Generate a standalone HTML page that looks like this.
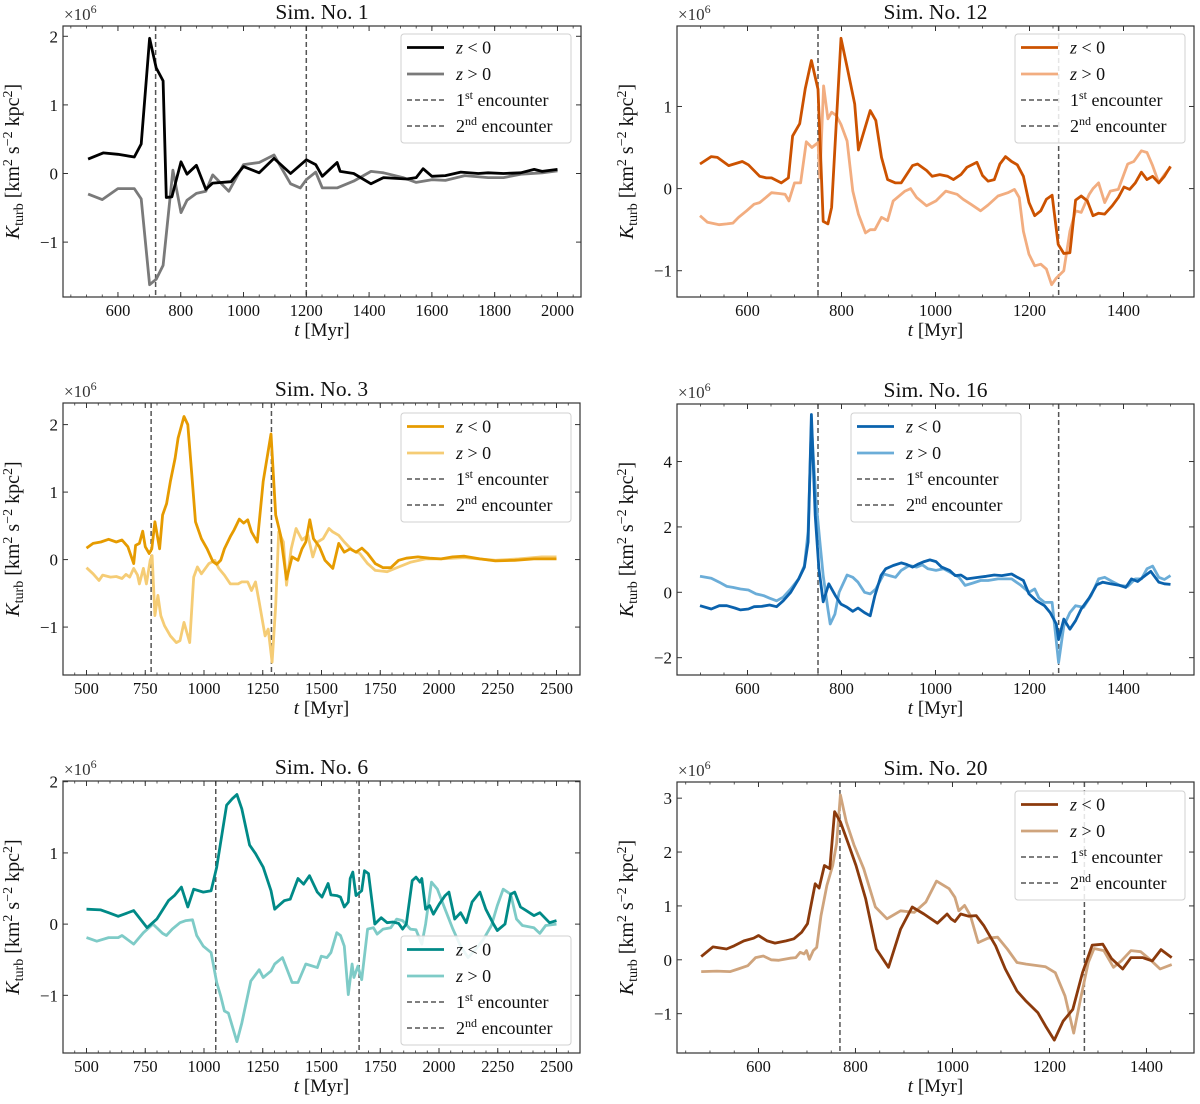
<!DOCTYPE html>
<html><head><meta charset="utf-8"><style>
html,body{margin:0;padding:0;background:#fff;}
svg{display:block;font-family:"Liberation Serif",serif;}
</style></head><body>
<svg id="fig" width="1200" height="1104" viewBox="0 0 1200 1104" xmlns="http://www.w3.org/2000/svg"></svg>
<script>
// ---- Data (values in units of 1e6) ----
const p1NegT=[505,553,600,652,674,701,722,744,754,772,801,820,850,880,902,960,1000,1050,1097,1150,1200,1230,1251,1298,1308,1351,1406,1446,1520,1550,1572,1600,1643,1692,1748,1779,1828,1883,1926,1951,2000];
const p1NegV=[0.21,0.30,0.28,0.24,0.43,1.97,1.54,1.35,-0.35,-0.34,0.17,-0.01,0.12,-0.23,-0.14,-0.12,0.10,0.01,0.22,0,0.20,0.13,-0.04,0.16,0.03,0,-0.15,-0.06,-0.08,-0.06,0.07,-0.04,-0.03,0.02,0,0.01,0,0.01,0.06,0.03,0.06];
const p1PosT=[505,550,600,652,674,701,722,744,775,801,820,850,880,902,953,1000,1050,1097,1150,1181,1200,1230,1251,1298,1351,1406,1446,1508,1550,1600,1643,1705,1779,1828,1883,1951,2000];
const p1PosV=[-0.30,-0.38,-0.22,-0.22,-0.37,-1.62,-1.54,-1.34,0.05,-0.57,-0.39,-0.29,-0.26,-0.02,-0.26,0.13,0.16,0.27,-0.15,-0.21,-0.09,0.02,-0.21,-0.21,-0.11,0.03,0.01,-0.06,-0.13,-0.09,-0.10,-0.03,-0.06,-0.06,-0.01,0.01,0.04];
const p1Enc=[720,1200];

const p2NegT=[499,523,536,560,589,602,626,640,651,672,687,696,711,723,736,750,761,771,779,799,812,828,836,861,873,885,898,915,927,951,962,981,993,1009,1026,1038,1054,1067,1088,1100,1112,1125,1137,1149,1162,1174,1187,1199,1211,1224,1236,1248,1261,1273,1286,1298,1310,1323,1335,1347,1360,1376,1389,1401,1413,1425,1438,1450,1462,1475,1487,1500];
const p2NegV=[0.30,0.39,0.38,0.28,0.33,0.29,0.15,0.13,0.13,0.07,0.13,0.64,0.79,1.22,1.56,1.21,-0.40,-0.43,-0.23,1.83,1.48,1.03,0.47,0.95,0.83,0.38,0.11,0.07,0.07,0.28,0.30,0.22,0.15,0.17,0.15,0.11,0.17,0.26,0.32,0.16,0.09,0.11,0.30,0.39,0.33,0.29,0.15,-0.17,-0.33,-0.27,-0.13,-0.08,-0.68,-0.79,-0.78,-0.14,-0.09,-0.15,-0.33,-0.30,-0.31,-0.21,-0.11,0.02,-0.01,0.07,0.20,0.11,0.15,0.07,0.15,0.27];
const p2PosT=[499,515,540,556,569,581,598,614,626,639,651,667,680,688,700,713,725,737,750,754,762,771,779,789,799,812,824,836,851,861,871,885,898,910,935,947,960,981,1001,1022,1046,1059,1075,1096,1112,1133,1154,1168,1178,1187,1199,1211,1224,1236,1247,1257,1273,1286,1298,1310,1327,1335,1347,1360,1372,1389,1409,1422,1438,1450,1462,1475,1487,1500];
const p2PosV=[-0.33,-0.41,-0.44,-0.43,-0.42,-0.35,-0.27,-0.19,-0.17,-0.11,-0.05,-0.06,-0.07,-0.15,0.07,0.07,0.57,0.50,0.56,0.13,1.25,0.85,0.93,0.89,0.78,0.58,-0.03,-0.31,-0.54,-0.50,-0.50,-0.35,-0.39,-0.15,-0.03,0,-0.11,-0.21,-0.15,-0.03,-0.07,-0.13,-0.19,-0.27,-0.20,-0.09,-0.05,-0.01,-0.11,-0.52,-0.80,-0.94,-0.92,-0.98,-1.17,-1.09,-1.00,-0.52,-0.27,-0.29,-0.07,0,0.07,-0.17,-0.03,-0.01,0.30,0.33,0.46,0.44,0.28,0.07,0.17,0.26];
const p2Enc=[750,1262];

const p3NegT=[500,528,561,594,627,651,676,701,709,725,739,750,767,778,791,811,824,841,857,877,890,915,931,948,964,989,1013,1038,1054,1071,1087,1112,1128,1150,1169,1186,1202,1227,1252,1285,1305,1326,1351,1375,1400,1417,1433,1450,1466,1491,1515,1548,1573,1597,1622,1647,1672,1696,1729,1762,1795,1828,1861,1910,1960,2009,2058,2108,2174,2240,2322,2404,2500];
const p3NegV=[0.17,0.24,0.26,0.30,0.26,0.29,0.19,-0.06,0.21,0.24,0.42,0.19,0.09,0.16,0.56,0.16,0.66,0.83,1.16,1.50,1.80,2.12,2.00,1.26,0.56,0.31,0.16,-0.03,-0.07,-0.01,0.16,0.34,0.44,0.60,0.54,0.59,0.41,0.26,1.16,1.86,0.66,0.36,-0.29,0.04,-0.01,0.16,0.26,0.59,0.31,0.19,-0.01,-0.13,0.24,0.11,0.16,0.11,0.17,0.09,-0.06,-0.12,-0.12,-0.01,0.02,0.04,0.02,0.01,0.04,0.05,0.01,-0.02,-0.01,0.01,0.01];
const p3PosT=[500,528,553,569,602,627,651,668,684,701,717,725,742,755,771,779,791,804,816,832,857,882,898,915,939,956,972,989,1021,1046,1063,1087,1112,1145,1161,1186,1202,1219,1235,1260,1273,1290,1305,1318,1338,1351,1371,1392,1417,1442,1463,1483,1507,1532,1548,1573,1597,1630,1663,1696,1729,1779,1828,1878,1943,2009,2108,2240,2339,2437,2500];
const p3PosV=[-0.12,-0.21,-0.31,-0.23,-0.26,-0.25,-0.28,-0.22,-0.26,-0.13,-0.23,-0.36,-0.13,-0.36,-0.01,0.06,-0.83,-0.53,-0.83,-0.98,-1.13,-1.23,-1.20,-0.93,-1.23,-0.26,-0.11,-0.21,-0.06,-0.01,-0.13,-0.23,-0.36,-0.36,-0.33,-0.33,-0.46,-0.33,-0.63,-1.13,-1.03,-1.52,-0.68,0.41,0.26,-0.38,0.16,0.46,0.29,0.36,0.04,0.26,0.31,0.46,0.41,0.36,0.26,0.14,0.09,-0.06,-0.16,-0.18,-0.11,-0.04,0.01,0.01,0.03,-0.01,0.01,0.04,0.04];
const p3Enc=[775,1287];

const p4NegT=[499,523,540,556,573,585,602,614,630,647,662,676,692,709,721,729,736,744,752,761,773,787,799,812,824,835,849,861,871,884,894,910,927,939,951,964,976,988,1001,1013,1030,1042,1054,1067,1092,1108,1125,1141,1162,1174,1187,1199,1215,1232,1244,1257,1262,1273,1286,1298,1310,1327,1343,1356,1372,1392,1405,1417,1430,1446,1458,1475,1487,1500];
const p4NegV=[-0.41,-0.51,-0.41,-0.41,-0.48,-0.54,-0.51,-0.44,-0.43,-0.39,-0.44,-0.26,0,0.41,0.77,1.54,5.44,2.36,0.72,-0.29,0.26,-0.10,-0.36,-0.46,-0.58,-0.48,-0.62,-0.72,-0.10,0.51,0.72,0.82,0.90,0.85,0.77,0.87,0.94,0.99,0.94,0.77,0.67,0.51,0.53,0.41,0.46,0.49,0.53,0.51,0.56,0.46,0.36,-0.05,-0.26,-0.41,-0.62,-0.97,-1.44,-0.82,-1.13,-0.87,-0.51,-0.17,0.23,0.31,0.26,0.21,0.15,0.41,0.33,0.51,0.64,0.31,0.26,0.24];
const p4PosT=[499,523,540,556,569,585,602,618,634,647,662,676,692,709,721,729,736,746,754,761,771,776,786,795,812,824,835,849,861,873,890,902,915,927,944,960,972,984,1001,1017,1034,1050,1063,1079,1096,1112,1133,1162,1182,1199,1211,1220,1232,1248,1262,1273,1286,1298,1315,1331,1347,1360,1376,1392,1409,1425,1438,1450,1462,1475,1487,1500];
const p4PosV=[0.49,0.43,0.31,0.18,0.15,0.10,0.07,-0.05,-0.10,-0.18,-0.26,-0.15,0.10,0.41,0.82,1.85,5.13,2.77,1.54,0.51,-0.51,-0.97,-0.67,0,0.53,0.46,0.31,0,-0.05,0.10,0.56,0.51,0.46,0.67,0.82,0.77,0.84,0.72,0.67,0.72,0.59,0.46,0.21,0.28,0.36,0.36,0.41,0.41,0.21,0,0.10,-0.17,-0.31,-0.31,-2.15,-1.03,-0.62,-0.41,-0.46,-0.10,0.41,0.46,0.33,0.21,0.18,0.41,0.41,0.72,0.80,0.46,0.39,0.51];
const p4Enc=[750,1262];

const p5NegT=[500,561,594,635,701,758,799,849,874,904,931,956,997,1030,1054,1096,1120,1140,1161,1194,1219,1252,1285,1301,1318,1342,1367,1400,1424,1449,1482,1502,1528,1540,1565,1581,1597,1614,1622,1633,1647,1671,1683,1700,1727,1754,1779,1804,1828,1845,1861,1886,1902,1919,1927,1943,1960,1976,2001,2026,2042,2067,2092,2116,2141,2174,2199,2232,2248,2281,2305,2322,2347,2371,2404,2429,2470,2500];
const p5NegV=[0.21,0.20,0.16,0.11,0.19,-0.05,0.07,0.33,0.40,0.52,0.24,0.49,0.45,0.47,0.80,1.67,1.76,1.82,1.62,1.11,0.99,0.80,0.47,0.21,0.26,0.33,0.35,0.64,0.56,0.68,0.45,0.38,0.57,0.41,0.40,0.38,0.24,0.31,0.64,0.73,0.40,0.47,0.75,0.71,0,0.09,0.02,0.03,0.01,-0.07,0,0.61,0.66,0.59,0.64,0.21,0.26,0.14,0.28,0.40,0.45,0.07,0.16,0.02,0.31,0.45,0.21,0,-0.09,0,0.42,0.45,0.24,0.19,0.12,0.16,0.02,0.05];
const p5PosT=[500,544,594,635,651,701,742,783,824,840,865,898,923,951,969,997,1030,1054,1071,1087,1104,1140,1161,1199,1235,1252,1285,1301,1334,1375,1400,1433,1482,1499,1523,1540,1565,1581,1597,1614,1630,1638,1655,1671,1696,1721,1737,1762,1795,1820,1845,1878,1902,1927,1943,1968,1993,2026,2059,2092,2124,2157,2190,2223,2248,2273,2305,2330,2355,2404,2429,2454,2500];
const p5PosV=[-0.19,-0.24,-0.19,-0.19,-0.16,-0.28,-0.12,0,-0.13,-0.16,-0.07,0.02,0.05,0.06,-0.16,-0.31,-0.40,-0.82,-1.01,-1.22,-1.25,-1.65,-1.39,-0.80,-0.64,-0.75,-0.66,-0.56,-0.47,-0.82,-0.82,-0.56,-0.61,-0.45,-0.47,-0.40,-0.12,-0.16,-0.31,-0.99,-0.56,-0.75,-0.59,-0.78,-0.07,-0.05,-0.14,-0.07,-0.05,0.07,0.05,-0.07,-0.08,-0.28,0,0.59,0.49,0.21,-0.07,-0.31,-0.47,-0.35,-0.21,-0.02,0.26,0.49,0.42,0.07,-0.02,-0.05,-0.13,-0.02,0];
const p5Enc=[1050,1660];

const p6NegT=[482,506,534,550,570,590,600,618,634,657,673,689,701,709,717,725,736,747,757,769,785,801,821,843,868,893,917,941,969,989,997,1005,1017,1033,1049,1065,1089,1109,1133,1152,1176,1192,1210,1228,1248,1268,1288,1310,1328,1351,1368,1392,1412,1430,1452];
const p6NegV=[0.06,0.24,0.20,0.26,0.35,0.40,0.45,0.35,0.31,0.35,0.39,0.51,0.67,1.04,1.41,1.33,1.75,1.69,2.75,2.56,2.16,1.75,1.13,0.20,-0.14,0.57,0.98,0.85,0.68,0.85,0.76,0.71,0.85,0.81,0.82,0.63,0.26,-0.17,-0.58,-0.77,-0.98,-1.23,-1.49,-1.14,-0.92,-0.24,0.27,0.29,0.02,-0.17,0.04,0.04,-0.02,0.19,0.04];
const p6PosT=[482,514,542,558,578,594,610,626,642,665,677,686,694,699,705,713,720,729,741,753,761,769,781,797,817,841,865,893,921,945,967,993,1005,1013,1025,1037,1053,1073,1093,1113,1133,1152,1192,1212,1232,1250,1264,1280,1292,1312,1332,1348,1368,1388,1408,1428,1452];
const p6PosV=[-0.22,-0.21,-0.22,-0.17,-0.11,0.04,0.07,0,-0.01,0.03,0.04,0.14,0.11,0.17,0.01,0.17,0.23,0.82,1.38,1.75,2.16,3.06,2.56,2.13,1.69,0.98,0.76,0.91,0.88,1.07,1.46,1.32,1.16,0.91,1.01,0.82,0.32,0.40,0.42,0.20,-0.05,-0.08,-0.13,-0.24,-0.67,-1.36,-0.73,-0.05,0.21,0.17,-0.14,-0.02,0.17,0.15,0,-0.17,-0.09];
const p6Enc=[768,1272];

// ---- Layout ----
const panels=[
 {id:'sim-1',title:'Sim. No. 1',box:[63,26,581,297],xlim:[425,2075],ylim:[-1.80,2.15],xt:[600,800,1000,1200,1400,1600,1800,2000],minor:50,yt:[-1,0,1,2],leg:[401,34],c:['#000000','#7a7a7a'],neg:[p1NegT,p1NegV],pos:[p1PosT,p1PosV],enc:p1Enc},
 {id:'sim-12',title:'Sim. No. 12',box:[677,26,1194,297],xlim:[450,1550],ylim:[-1.32,1.98],xt:[600,800,1000,1200,1400],minor:50,yt:[-1,0,1],leg:[1015,34],c:['#cc5200','#f2ad80'],neg:[p2NegT,p2NegV],pos:[p2PosT,p2PosV],enc:p2Enc},
 {id:'sim-3',title:'Sim. No. 3',box:[63,403,580,675],xlim:[400,2600],ylim:[-1.71,2.32],xt:[500,750,1000,1250,1500,1750,2000,2250,2500],minor:50,yt:[-1,0,1,2],leg:[401,413],c:['#e69b00','#f5cc75'],neg:[p3NegT,p3NegV],pos:[p3PosT,p3PosV],enc:p3Enc},
 {id:'sim-16',title:'Sim. No. 16',box:[677,404,1194,675],xlim:[450,1550],ylim:[-2.53,5.76],xt:[600,800,1000,1200,1400],minor:50,yt:[-2,0,2,4],leg:[851,413],c:['#0a62ad','#6badd8'],neg:[p4NegT,p4NegV],pos:[p4PosT,p4PosV],enc:p4Enc},
 {id:'sim-6',title:'Sim. No. 6',box:[63,781,580,1053],xlim:[400,2600],ylim:[-1.81,2.01],xt:[500,750,1000,1250,1500,1750,2000,2250,2500],minor:50,yt:[-1,0,1,2],leg:[401,936],c:['#008a87','#7ecbc7'],neg:[p5NegT,p5NegV],pos:[p5PosT,p5PosV],enc:p5Enc},
 {id:'sim-20',title:'Sim. No. 20',box:[677,782,1194,1053],xlim:[432,1498],ylim:[-1.73,3.30],xt:[600,800,1000,1200,1400],minor:50,yt:[-1,0,1,2,3],leg:[1015,791],c:['#8b3a0c','#cfa47d'],neg:[p6NegT,p6NegV],pos:[p6PosT,p6PosV],enc:p6Enc}
];
const NS='http://www.w3.org/2000/svg';
const svg=document.getElementById('fig');
function mk(tag,attrs,parent){const e=document.createElementNS(NS,tag);for(const k in attrs)e.setAttribute(k,attrs[k]);(parent||svg).appendChild(e);return e;}
function tsp(parent,txt,attrs){const t=mk('tspan',attrs||{},parent);t.textContent=txt;return t;}

panels.forEach(function(p){
 const [L,T,R,B]=p.box;
 const sx=v=>L+(v-p.xlim[0])/(p.xlim[1]-p.xlim[0])*(R-L);
 const sy=v=>B-(v-p.ylim[0])/(p.ylim[1]-p.ylim[0])*(B-T);
 const g=mk('g',{});
 
 
 const cid='clip-'+p.id;
 const cp=mk('clipPath',{id:cid},g);
 mk('rect',{x:L,y:T,width:R-L,height:B-T},cp);
 p.enc.forEach(function(t,i){
  const l=mk('line',{x1:sx(t),x2:sx(t),y1:T,y2:B,stroke:'#555',"stroke-width":1.5,"stroke-dasharray":'5,3'},g);
  
  
 });
 [[p.pos,p.c[1],'z-positive-line'],[p.neg,p.c[0],'z-negative-line']].forEach(function(s){
  const ts=s[0][0],vs=s[0][1];
  let d='';
  for(let i=0;i<ts.length;i++)d+=(i?'L':'M')+sx(ts[i]).toFixed(1)+','+sy(vs[i]).toFixed(1);
  const path=mk('path',{d:d,fill:'none',stroke:s[1],"stroke-width":2.8,"stroke-linejoin":'round',"clip-path":'url(#'+cid+')'},g);
  
  
 });
 const fr=mk('rect',{x:L,y:T,width:R-L,height:B-T,fill:'none',stroke:'#333',"stroke-width":1.2},g);
 
 
 for(let v=Math.ceil(p.xlim[0]/p.minor)*p.minor;v<=p.xlim[1];v+=p.minor){
  const x=sx(v);
  mk('line',{x1:x,x2:x,y1:B,y2:B-2.5,stroke:'#333',"stroke-width":0.8},g);
  mk('line',{x1:x,x2:x,y1:T,y2:T+2.5,stroke:'#333',"stroke-width":0.8},g);
 }
 p.xt.forEach(function(v){
  const x=sx(v);
  mk('line',{x1:x,x2:x,y1:B,y2:B-5,stroke:'#333',"stroke-width":1},g);
  mk('line',{x1:x,x2:x,y1:T,y2:T+5,stroke:'#333',"stroke-width":1},g);
  const t=mk('text',{x:x,y:B+19,"font-size":16.5,"text-anchor":'middle',fill:'#111'},g);
  t.textContent=String(v);
  
  
 });
 p.yt.forEach(function(v){
  const y=sy(v);
  mk('line',{x1:L,x2:L+5,y1:y,y2:y,stroke:'#333',"stroke-width":1},g);
  mk('line',{x1:R,x2:R-5,y1:y,y2:y,stroke:'#333',"stroke-width":1},g);
  const t=mk('text',{x:L-5,y:y+6,"font-size":17,"text-anchor":'end',fill:'#111'},g);
  t.textContent=v<0?'\u2212'+Math.abs(v):String(v);
  
  
 });
 const ti=mk('text',{x:(L+R)/2,y:T-7,"font-size":21.5,"text-anchor":'middle',fill:'#111'},g);
 ti.textContent=p.title;
 
 
 const off=mk('text',{x:L+1,y:T-6,"font-size":17,fill:'#333'},g);
 tsp(off,'\u00d710');tsp(off,'6',{"font-size":12,dy:-7});
 
 
 const xl=mk('text',{x:(L+R)/2,y:B+39,"font-size":19,"text-anchor":'middle',fill:'#111'},g);
 tsp(xl,'t',{"font-style":'italic'});tsp(xl,' [Myr]');
 
 
 const cx=L-44,cy=(T+B)/2;
 const yl=mk('text',{x:cx,y:cy,"font-size":20,"text-anchor":'middle',fill:'#111',transform:'rotate(-90 '+cx+' '+cy+')'},g);
 tsp(yl,'K',{"font-style":'italic'});tsp(yl,'turb',{"font-size":14,dy:4});tsp(yl,' [km',{dy:-4});tsp(yl,'2',{"font-size":14,dy:-7});tsp(yl,' s',{dy:7});tsp(yl,'\u22122',{"font-size":14,dy:-7});tsp(yl,' kpc',{dy:7});tsp(yl,'2',{"font-size":14,dy:-7});tsp(yl,']',{dy:7});
 
 
 const lx=p.leg[0],ly=p.leg[1];
 const lg=mk('g',{},g);
 
 
 mk('rect',{x:lx,y:ly,width:170,height:109,rx:3,fill:'#fff',"fill-opacity":0.85,stroke:'#d0d0d0',"stroke-width":1},lg);
 const rows=[13.5,40,66,92];
 const labels=[['z',' < 0'],['z',' > 0'],['1','st',' encounter'],['2','nd',' encounter']];
 rows.forEach(function(r,i){
  const hy=ly+r;
  const h=mk('line',{x1:lx+6,x2:lx+43,y1:hy,y2:hy,stroke:i<2?p.c[i]:'#555',"stroke-width":i<2?2.8:1.5,"stroke-dasharray":i<2?'none':'5,3'},lg);
  
  
  const t=mk('text',{x:lx+55,y:hy+6,"font-size":18,fill:'#111'},lg);
  const lab=labels[i];
  if(i<2){tsp(t,lab[0],{"font-style":'italic'});tsp(t,lab[1]);}
  else{tsp(t,lab[0]);tsp(t,lab[1],{"font-size":12,dy:-7});tsp(t,lab[2],{dy:7});}
  
  
 });
});
</script>
</body></html>
